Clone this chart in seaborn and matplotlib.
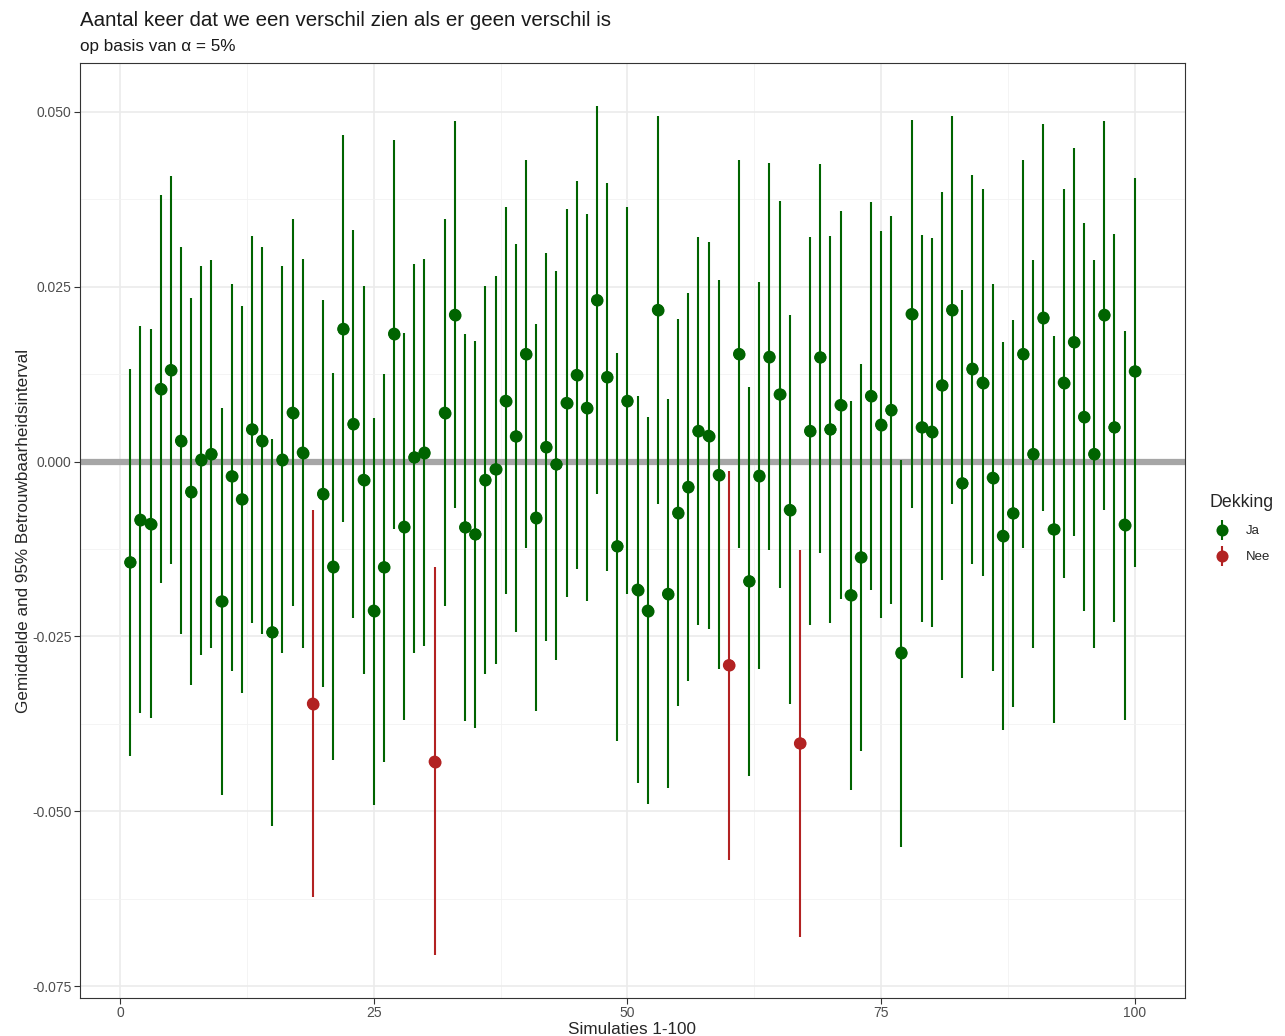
import numpy as np
import pandas as pd
import matplotlib
matplotlib.use("Agg")
import matplotlib.pyplot as plt
from matplotlib.container import ErrorbarContainer
from matplotlib.legend_handler import HandlerErrorbar
import seaborn as sns

# simulation number 1-100
simulatie = list(range(1, 101))

# point estimates
gemiddelde = [
    -0.0144, -0.0083, -0.0089, 0.0104, 0.0131, 0.0030, -0.0043, 0.0003, 0.0011, -0.0200,
    -0.0021, -0.0054, 0.0046, 0.0030, -0.0244, 0.0003, 0.0070, 0.0013, -0.0346, -0.0046,
    -0.0150, 0.0190, 0.0054, -0.0026, -0.0213, -0.0151, 0.0183, -0.0093, 0.0006, 0.0013,
    -0.0429, 0.0070, 0.0210, -0.0094, -0.0104, -0.0026, -0.0011, 0.0087, 0.0036, 0.0154,
    -0.0080, 0.0021, -0.0004, 0.0084, 0.0124, 0.0077, 0.0231, 0.0121, -0.0121, 0.0087,
    -0.0183, -0.0213, 0.0217, -0.0189, -0.0073, -0.0036, 0.0044, 0.0037, -0.0019, -0.0291,
    0.0154, -0.0171, -0.0020, 0.0150, 0.0096, -0.0069, -0.0403, 0.0044, 0.0149, 0.0046,
    0.0081, -0.0191, -0.0137, 0.0094, 0.0053, 0.0074, -0.0273, 0.0211, 0.0049, 0.0043,
    0.0109, 0.0217, -0.0031, 0.0133, 0.0113, -0.0023, -0.0106, -0.0074, 0.0154, 0.0011,
    0.0206, -0.0097, 0.0113, 0.0171, 0.0064, 0.0011, 0.0210, 0.0049, -0.0090, 0.0129,
]

# lower bound of the 95% interval
ondergrens = [
    -0.0421, -0.0360, -0.0366, -0.0173, -0.0146, -0.0247, -0.0320, -0.0276, -0.0266, -0.0477,
    -0.0300, -0.0331, -0.0231, -0.0247, -0.0521, -0.0274, -0.0207, -0.0266, -0.0623, -0.0323,
    -0.0427, -0.0087, -0.0223, -0.0303, -0.0491, -0.0429, -0.0096, -0.0370, -0.0273, -0.0264,
    -0.0706, -0.0207, -0.0067, -0.0371, -0.0381, -0.0303, -0.0289, -0.0190, -0.0243, -0.0123,
    -0.0357, -0.0256, -0.0283, -0.0193, -0.0153, -0.0200, -0.0046, -0.0157, -0.0399, -0.0190,
    -0.0460, -0.0490, -0.0060, -0.0466, -0.0350, -0.0314, -0.0233, -0.0240, -0.0297, -0.0569,
    -0.0123, -0.0449, -0.0297, -0.0127, -0.0181, -0.0346, -0.0680, -0.0234, -0.0130, -0.0231,
    -0.0197, -0.0469, -0.0414, -0.0184, -0.0224, -0.0204, -0.0551, -0.0066, -0.0230, -0.0236,
    -0.0169, -0.0060, -0.0309, -0.0146, -0.0164, -0.0300, -0.0384, -0.0351, -0.0124, -0.0266,
    -0.0071, -0.0374, -0.0166, -0.0106, -0.0213, -0.0267, -0.0069, -0.0230, -0.0369, -0.0150,
]

# upper bound of the 95% interval
bovengrens = [
    0.0133, 0.0194, 0.0189, 0.0381, 0.0409, 0.0307, 0.0234, 0.0280, 0.0289, 0.0077,
    0.0254, 0.0223, 0.0323, 0.0307, 0.0033, 0.0280, 0.0347, 0.0290, -0.0069, 0.0231,
    0.0127, 0.0467, 0.0331, 0.0251, 0.0063, 0.0126, 0.0460, 0.0184, 0.0283, 0.0290,
    -0.0151, 0.0347, 0.0487, 0.0183, 0.0173, 0.0251, 0.0266, 0.0364, 0.0311, 0.0431,
    0.0197, 0.0299, 0.0273, 0.0361, 0.0401, 0.0354, 0.0509, 0.0399, 0.0156, 0.0364,
    0.0094, 0.0064, 0.0494, 0.0089, 0.0204, 0.0241, 0.0321, 0.0314, 0.0259, -0.0014,
    0.0431, 0.0106, 0.0257, 0.0427, 0.0373, 0.0209, -0.0126, 0.0321, 0.0426, 0.0323,
    0.0359, 0.0086, 0.0140, 0.0371, 0.0330, 0.0351, 0.0003, 0.0489, 0.0324, 0.0320,
    0.0386, 0.0494, 0.0246, 0.0410, 0.0390, 0.0254, 0.0171, 0.0203, 0.0431, 0.0289,
    0.0483, 0.0180, 0.0390, 0.0449, 0.0341, 0.0289, 0.0487, 0.0326, 0.0187, 0.0406,
]

df = pd.DataFrame({
    "sim": simulatie,
    "gem": gemiddelde,
    "lo": ondergrens,
    "hi": bovengrens,
})
df["Dekking"] = np.where((df["lo"] <= 0) & (df["hi"] >= 0), "Ja", "Nee")

kleuren = {"Ja": "#006400", "Nee": "#B22222"}

sns.set_style("white")
plt.rcParams["font.family"] = ["Liberation Sans", "DejaVu Sans"]

fig = plt.figure(figsize=(12.85, 10.36), dpi=100)
ax = fig.add_axes([80 / 1285, 1 - 998 / 1036, (1185 - 80) / 1285, (998 - 63) / 1036])

# gridlines like theme_bw
for v in [12.5, 37.5, 62.5, 87.5]:
    ax.axvline(v, color="#F2F2F2", lw=0.6, zorder=0)
for v in [0, 25, 50, 75, 100]:
    ax.axvline(v, color="#EBEBEB", lw=1.2, zorder=0)
for v in [-0.0625, -0.0375, -0.0125, 0.0125, 0.0375]:
    ax.axhline(v, color="#F2F2F2", lw=0.6, zorder=0)
for v in [-0.075, -0.05, -0.025, 0, 0.025, 0.05]:
    ax.axhline(v, color="#EBEBEB", lw=1.2, zorder=0)

ax.axhline(0, color="#A6A6A6", lw=4.5, zorder=1)

# intervals (point + range), one container per group for the legend
handles = []
for k in ["Ja", "Nee"]:
    sub = df[df["Dekking"] == k]
    eb = ax.errorbar(sub["sim"], sub["gem"],
                     yerr=[sub["gem"] - sub["lo"], sub["hi"] - sub["gem"]],
                     fmt="o", color=kleuren[k], ecolor=kleuren[k], elinewidth=1.5,
                     markersize=8.7, markeredgewidth=0, capsize=0, zorder=2, label=k)
    handles.append(eb)

sns.scatterplot(data=df, x="sim", y="gem", hue="Dekking", palette=kleuren,
                s=75, linewidth=0, ax=ax, zorder=3, legend=False)

ax.set_xlim(-3.95, 104.95)
ax.set_ylim(-0.0767, 0.0570)
ax.set_xticks([0, 25, 50, 75, 100])
ax.set_yticks([-0.075, -0.05, -0.025, 0, 0.025, 0.05])
ax.set_yticklabels(["-0.075", "-0.050", "-0.025", "0.000", "0.025", "0.050"])
ax.tick_params(axis="both", length=4, width=0.8, color="#333333",
               labelsize=10, labelcolor="#4D4D4D", pad=2)
ax.tick_params(axis="both", which="both", bottom=True, left=True)
for s in ax.spines.values():
    s.set_color("#333333")
    s.set_linewidth(0.8)

ax.set_xlabel("Simulaties 1-100", fontsize=12.3, labelpad=1)
ax.set_ylabel("Gemiddelde and 95% Betrouwbaarheidsinterval", fontsize=12.3, labelpad=1)

fig.text(80 / 1285, 1 - 20 / 1036, "Aantal keer dat we een verschil zien als er geen verschil is",
         fontsize=14.8, ha="left", va="center", color="#1A1A1A")
fig.text(80 / 1285, 1 - 46 / 1036, "op basis van \u03b1 = 5%",
         fontsize=12.3, ha="left", va="center", color="#1A1A1A")

leg = fig.legend(handles, ["Ja", "Nee"], title="Dekking",
                 handler_map={ErrorbarContainer: HandlerErrorbar(yerr_size=0.75)},
                 loc="upper left", bbox_to_anchor=(1204 / 1285, 1 - 489 / 1036),
                 frameon=False, fontsize=9.5, title_fontsize=12.8, handlelength=2.0,
                 handletextpad=0.75, labelspacing=1.05, borderaxespad=0)
leg._legend_box.align = "left"

fig.savefig("out.png", dpi=100)
